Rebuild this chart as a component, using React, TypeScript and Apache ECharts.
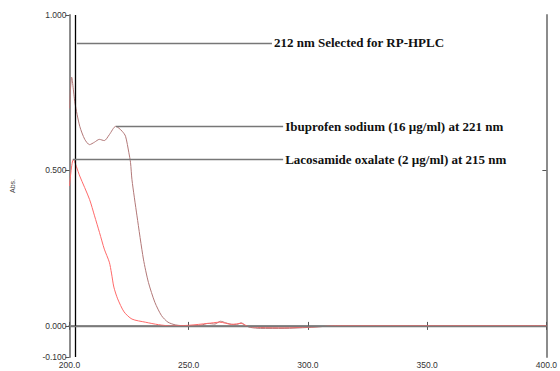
import React, { useEffect, useRef } from "react";
import * as echarts from "echarts";

const ibuWl = [200, 200.9, 202.3, 204.3, 206.4, 208.4, 210.5, 212.5, 214.6, 216.7, 219.4, 222.1, 223.5, 224.9, 225.6, 226.2, 228.3, 231.0, 233.1, 235.8, 238.6, 241.3, 244.6, 249.5, 255, 258, 261, 263.3, 265.5, 267.3, 270, 272, 274, 276, 280, 290, 300, 306, 312, 340, 360, 380, 400];
const ibuAbs = [0.70, 0.80, 0.717, 0.642, 0.60, 0.583, 0.591, 0.60, 0.596, 0.615, 0.642, 0.626, 0.61, 0.557, 0.525, 0.47, 0.354, 0.215, 0.14, 0.076, 0.033, 0.012, 0.003, 0.0, 0.002, 0.008, 0.006, 0.015, 0.01, 0.006, 0.004, 0.01, 0.0, -0.005, -0.008, -0.008, -0.005, -0.002, 0.0, 0.0, 0.0, 0.0, 0.0];

const lacWl = [200, 201.6, 204.3, 208.4, 210.5, 212.6, 214.6, 216.7, 217.6, 218.6, 220.2, 222.9, 226.2, 231.8, 237.3, 242.6, 250, 258, 263, 268, 272, 275, 280, 290, 300, 306, 312, 400];
const lacAbs = [0.45, 0.535, 0.482, 0.407, 0.354, 0.30, 0.247, 0.205, 0.17, 0.125, 0.087, 0.045, 0.022, 0.012, 0.004, 0.0, 0.002, 0.008, 0.012, 0.005, 0.008, -0.002, -0.005, -0.006, -0.004, -0.002, 0.0, 0.0];

const yTicks = [-0.1, 0, 0.5, 1.0];

const selectedWl = 202.4;
const annotations = [
  { text: "212 nm Selected for RP-HPLC", from: [203.1, 0.91], to: [284.9, 0.91] },
  { text: "Ibuprofen sodium (16 µg/ml) at 221 nm", from: [219.5, 0.641], to: [289.6, 0.641] },
  { text: "Lacosamide oxalate (2 µg/ml) at 215 nm", from: [201.4, 0.535], to: [289.6, 0.535] },
];

export default function App() {
  const ref = useRef<HTMLDivElement>(null);
  useEffect(() => {
    if (!ref.current) return;
    const chart = echarts.init(ref.current, null, { renderer: "svg" });
    const frame = "#8c8c8c";
    const labelStyle = { fontFamily: "Liberation Sans", fontSize: 8.5, color: "#333" };
    chart.setOption({
      animation: false,
      grid: { left: 69.5, right: 4, top: 15, bottom: 14 },
      xAxis: [
        {
          type: "value", min: 200, max: 400, interval: 50,
          axisLine: { show: true, lineStyle: { color: frame, width: 2 } },
          axisTick: { show: true, inside: true, length: 4, lineStyle: { color: "#555" } },
          axisLabel: { ...labelStyle, margin: 3, formatter: (v: number) => v.toFixed(1), showMaxLabel: true },
          splitLine: { show: false },
        },
        {
          type: "value", min: 200, max: 400, interval: 50, position: "top",
          axisLine: { show: true, lineStyle: { color: frame, width: 2 } },
          axisTick: { show: true, inside: true, length: 4, lineStyle: { color: "#555" } },
          axisLabel: { show: false }, splitLine: { show: false },
        },
      ],
      yAxis: [
        {
          type: "value", min: -0.1, max: 1.0,
          axisLine: { show: true, lineStyle: { color: frame, width: 2 } },
          axisTick: { show: true, length: 4, customValues: yTicks, lineStyle: { color: "#555" } },
          axisLabel: { ...labelStyle, margin: 3, customValues: yTicks, formatter: (v: number) => v.toFixed(3) },
          splitLine: { show: false },
          name: "Abs.", nameLocation: "middle", nameGap: 54, nameRotate: 90,
          nameTextStyle: { fontFamily: "Liberation Sans", fontSize: 7, color: "#444" },
        },
        {
          type: "value", min: -0.1, max: 1.0, position: "right",
          axisLine: { show: true, lineStyle: { color: frame, width: 2 } },
          axisTick: { show: true, inside: true, length: 4, customValues: [0.5], lineStyle: { color: "#555" } },
          axisLabel: { show: false }, splitLine: { show: false },
        },
      ],
      series: [
        {
          name: "Ibuprofen", type: "line", smooth: 0.25, symbol: "none",
          data: ibuWl.map((w, i) => [w, ibuAbs[i]]),
          lineStyle: { color: "#b27878", width: 1 },
          z: 3,
        },
        {
          name: "Lacosamide", type: "line", smooth: 0.25, symbol: "none",
          data: lacWl.map((w, i) => [w, lacAbs[i]]),
          lineStyle: { color: "#ff6a6a", width: 1 },
          z: 3,
          markLine: {
            silent: true, symbol: "none", animation: false,
            data: [
              { xAxis: selectedWl, lineStyle: { color: "#000", width: 1.3, type: "solid" }, label: { show: false } },
              { yAxis: 0, lineStyle: { color: "#7a7a7a", width: 1.3, type: "solid" }, label: { show: false } },
              ...annotations.map((a) => [
                { coord: a.from, lineStyle: { color: "#777", width: 1.3, type: "solid" } },
                {
                  coord: a.to,
                  label: {
                    show: true, position: "end", formatter: a.text, distance: 2,
                    padding: [3, 0, 0, 0],
                    fontFamily: "Liberation Serif", fontWeight: "bold", fontSize: 13, color: "#111",
                  },
                },
              ]),
            ],
          },
        },
      ],
    });
    return () => chart.dispose();
  }, []);
  return <div ref={ref} style={{ width: 560, height: 371, position: "absolute", left: 0, top: 0 }} />;
}
